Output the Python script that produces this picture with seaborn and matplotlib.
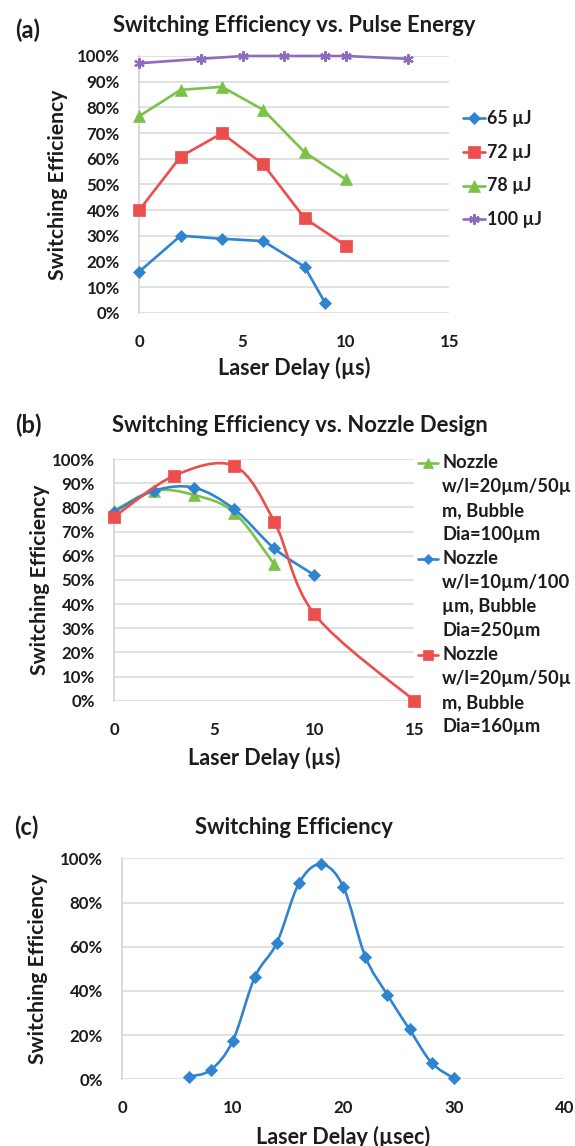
import numpy as np
import pandas as pd
import matplotlib
matplotlib.use("Agg")
import matplotlib.pyplot as plt
import seaborn as sns
from matplotlib.path import Path
from matplotlib.patches import PathPatch
from matplotlib.lines import Line2D
from matplotlib.ticker import FuncFormatter

# ---------------- data ----------------
# (a) Switching efficiency vs pulse energy
a_labels = ["65 µJ", "72 µJ", "78 µJ", "100 µJ"]
a_x_65 = [0, 2, 4, 6, 8, 9]
a_y_65 = [16.0, 30.0, 28.8, 27.9, 17.9, 3.7]
a_x_72 = [0, 2, 4, 6, 8, 10]
a_y_72 = [40.0, 60.8, 69.9, 57.8, 36.8, 26.1]
a_x_78 = [0, 2, 4, 6, 8, 10]
a_y_78 = [76.6, 86.8, 88.0, 79.0, 62.5, 51.9]
a_x_100 = [0, 3, 5, 7, 9, 10, 13]
a_y_100 = [97.2, 98.9, 100.0, 100.0, 100.0, 100.0, 98.9]

# (b) Switching efficiency vs nozzle design
b_labels = ["Nozzle\nw/l=20µm/50µ\nm, Bubble\nDia=100µm",
            "Nozzle\nw/l=10µm/100\nµm, Bubble\nDia=250µm",
            "Nozzle\nw/l=20µm/50µ\nm, Bubble\nDia=160µm"]
b_x_green = [0, 2, 4, 6, 8]
b_y_green = [78.6, 86.9, 85.1, 77.8, 56.4]
b_x_blue = [0, 2, 4, 6, 8, 10]
b_y_blue = [78.2, 86.9, 88.1, 79.2, 63.0, 52.0]
b_x_red = [0, 3, 6, 8, 10, 15]
b_y_red = [76.1, 93.1, 97.1, 74.1, 35.9, 0.0]

# (c) Switching efficiency vs laser delay
c_x = [6, 8, 10, 12, 14, 16, 18, 20, 22, 24, 26, 28, 30]
c_y = [1.2, 4.2, 17.3, 46.2, 61.8, 88.7, 97.3, 87.2, 55.5, 38.2, 22.6, 7.5, 0.5]

titles = ["Switching Efficiency vs. Pulse Energy",
          "Switching Efficiency vs. Nozzle Design",
          "Switching Efficiency"]
panel_tags = ["(a)", "(b)", "(c)"]
ylabel_text = "Switching Efficiency"
xlabels = ["Laser Delay (µs)", "Laser Delay (µs)", "Laser Delay (µsec)"]

# ---------------- style ----------------
BLUE = "#2F84D0"
RED = "#EC4D4D"
GREEN = "#7CC24A"
PURPLE = "#8C6BC0"
GRID = "#D9D9D9"
TXT = "#1C1C1C"
STAR = (6, 2, 0)

sns.set_theme(style="white")
plt.rcParams["font.family"] = ["Lato", "DejaVu Sans"]
plt.rcParams["font.weight"] = "bold"
plt.rcParams["text.color"] = TXT
plt.rcParams["xtick.color"] = TXT
plt.rcParams["ytick.color"] = TXT

W, H = 575, 1146
fig = plt.figure(figsize=(W / 100, H / 100), dpi=100)
fig.patch.set_facecolor("white")


def fx(x):
    return x / W


def fy(y):
    return 1 - y / H


def add_ax(x0, x1, y0, y1):
    return fig.add_axes([fx(x0), fy(y1), (x1 - x0) / W, (y1 - y0) / H])


def style_axes(ax, xlim, xticks):
    ax.set_xlim(*xlim)
    ax.set_ylim(0, 100)
    ax.set_xticks(xticks)
    ax.yaxis.set_major_formatter(FuncFormatter(lambda v, _: f"{v:.0f}%"))
    ax.grid(axis="y", color=GRID, lw=1.1)
    ax.grid(axis="x", visible=False)
    for s in ["top", "right", "bottom"]:
        ax.spines[s].set_visible(False)
    ax.spines["left"].set_color("#CFCFCF")
    ax.spines["left"].set_linewidth(1.1)
    ax.tick_params(axis="y", length=5, width=1.1, color=GRID, pad=9, labelsize=12.2)
    ax.tick_params(axis="x", length=4, width=1.1, color=GRID, pad=11, labelsize=12.2)
    ax.set_xlabel("")
    ax.set_ylabel("")
    ax.set_axisbelow(True)
    ax.set_facecolor("white")


def smooth_curve(ax, xs, ys, color, lw, z):
    # Excel-style smoothed line: cubic Bezier segments through the data points
    p = np.column_stack([xs, ys]).astype(float)
    n = len(p)
    verts = [p[0]]
    codes = [Path.MOVETO]
    for i in range(n - 1):
        pm = p[i - 1] if i > 0 else p[i]
        pn = p[i + 2] if i + 2 < n else p[i + 1]
        c1 = p[i] + (p[i + 1] - pm) / 6.0
        c2 = p[i + 1] - (pn - p[i]) / 6.0
        verts += [c1, c2, p[i + 1]]
        codes += [Path.CURVE4] * 3
    patch = PathPatch(Path(verts, codes), fill=False, edgecolor=color, lw=lw,
                      zorder=z, clip_on=False, capstyle="round", joinstyle="round")
    ax.add_patch(patch)


def legend_entry(x0, x1, y, color, marker, ms, lines, text_x, lw=1.9, fs=12.5,
                 spacing=24):
    xm = (x0 + x1) / 2
    ln = Line2D([fx(x0), fx(xm), fx(x1)], [fy(y)] * 3, transform=fig.transFigure,
                color=color, lw=lw, marker=marker, markersize=ms, markevery=[1],
                markerfacecolor=color, markeredgecolor=color,
                markeredgewidth=1.5 if marker == STAR else 0.5)
    fig.add_artist(ln)
    for k, t in enumerate(lines):
        fig.text(fx(text_x), fy(y + k * spacing), t, ha="left", va="center",
                 fontsize=fs, fontweight="bold", color=TXT)


# ---------------- panel (a) ----------------
axA = add_ax(139.3, 449.3, 56.0, 312.7)
series_a = [
    (a_x_65, a_y_65, BLUE, "D", 5.8),
    (a_x_72, a_y_72, RED, "s", 8.2),
    (a_x_78, a_y_78, GREEN, "^", 8.2),
    (a_x_100, a_y_100, PURPLE, STAR, 7.5),
]
for i, (xs, ys, c, m, ms) in enumerate(series_a):
    sns.lineplot(x=xs, y=ys, ax=axA, color=c, marker=m, markersize=ms,
                 linewidth=1.9, markeredgecolor=c,
                 markeredgewidth=1.5 if m == STAR else 0.5,
                 errorbar=None, clip_on=False, zorder=3 + i)
style_axes(axA, (0, 15), [0, 5, 10, 15])
axA.set_yticks(range(0, 101, 10))

legA_rows = [118.3, 152.3, 185.8, 219.3]
for (xs, ys, c, m, ms), lab, yy in zip(series_a, a_labels, legA_rows):
    legend_entry(463, 485, yy, c, m, ms, [lab], 487, fs=12.8)

# ---------------- panel (b) ----------------
axB = add_ax(114.3, 414.3, 459.0, 700.7)
series_b = [
    (b_x_green, b_y_green, GREEN, "^", 8.5),
    (b_x_blue, b_y_blue, BLUE, "D", 6.2),
    (b_x_red, b_y_red, RED, "s", 8.5),
]
for i, (xs, ys, c, m, ms) in enumerate(series_b):
    smooth_curve(axB, xs, ys, c, 1.9, 3 + 2 * i)
    sns.scatterplot(x=xs, y=ys, ax=axB, color=c, marker=m, s=ms ** 2,
                    edgecolor=c, linewidth=0.5, clip_on=False, zorder=4 + 2 * i)
style_axes(axB, (0, 15), [0, 5, 10, 15])
axB.set_yticks(range(0, 101, 10))

legB_rows = [462.7, 558.7, 654.7]
for (xs, ys, c, m, ms), lab, yy in zip(series_b, b_labels, legB_rows):
    legend_entry(418, 438, yy, c, m, ms * 0.85, lab.split("\n"), 442, fs=13.2)

# ---------------- panel (c) ----------------
axC = add_ax(122.2, 564.2, 858.3, 1079.3)
smooth_curve(axC, c_x, c_y, BLUE, 1.9, 3)
sns.scatterplot(x=c_x, y=c_y, ax=axC, color=BLUE, marker="D", s=6.2 ** 2,
                edgecolor=BLUE, linewidth=0.5, clip_on=False, zorder=4)
style_axes(axC, (0, 40), [0, 10, 20, 30, 40])
axC.set_yticks(range(0, 101, 20))

# ---------------- texts ----------------
title_pos = [(294.0, 25.5), (300.0, 425.0), (294.0, 827.0)]
tag_pos = [(28.0, 30.0), (28.0, 425.0), (26.0, 827.0)]
ylab_pos = [(58.0, 184.4), (40.5, 580.0), (38.5, 968.8)]
xlab_pos = [(294.3, 368.0), (264.3, 758.0), (343.2, 1137.0)]

for t, (x, y) in zip(titles, title_pos):
    fig.text(fx(x), fy(y), t, ha="center", va="center", fontsize=15.8,
             fontweight="bold", color=TXT)
for t, (x, y) in zip(panel_tags, tag_pos):
    fig.text(fx(x), fy(y), t, ha="center", va="center", fontsize=17,
             fontweight="bold", color=TXT)
for (x, y) in ylab_pos:
    fig.text(fx(x), fy(y), ylabel_text, ha="center", va="center", rotation=90,
             fontsize=15.2, fontweight="bold", color=TXT)
for t, (x, y) in zip(xlabels, xlab_pos):
    fig.text(fx(x), fy(y), t, ha="center", va="center", fontsize=15.5,
             fontweight="bold", color=TXT)

fig.savefig("out.png", dpi=100, facecolor="white")
